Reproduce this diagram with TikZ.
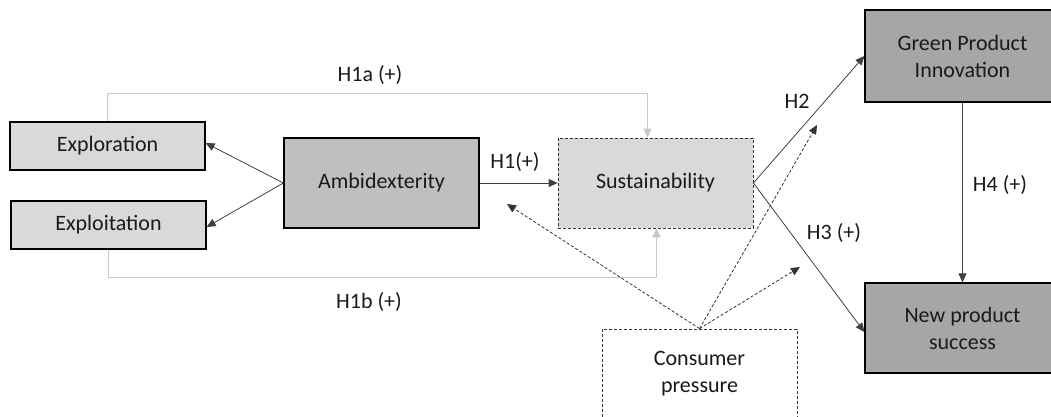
\documentclass[tikz,border=0pt]{standalone}
\usepackage{fontspec}
\setmainfont{Carlito}
\usetikzlibrary{arrows.meta,calc}
\definecolor{lightbox}{HTML}{D9D9D9}
\definecolor{midbox}{HTML}{BFBFBF}
\definecolor{darkbox}{HTML}{A6A6A6}
\definecolor{graylink}{HTML}{C8C8C8}
\definecolor{txt}{HTML}{1A1A1A}
\definecolor{linkc}{HTML}{404040}
\tikzset{
  box/.style={draw=black, line width=1.2pt, minimum width=195pt, inner sep=0pt, align=center, text=txt,
    font=\fontsize{22}{27}\selectfont},
  dbox/.style={box, draw=black!80, line width=0.8pt, dash pattern=on 3pt off 2pt},
  link/.style={draw=linkc, line width=0.8pt, -{Triangle[length=9pt,width=8pt]}},
  glink/.style={draw=graylink, line width=1.5pt, -{Triangle[length=9pt,width=8pt,fill=graylink]}},
  dlink/.style={draw=black!80, line width=0.8pt, dash pattern=on 3pt off 2pt, -{Triangle[length=9pt,width=8pt]}},
  lab/.style={text=txt, font=\fontsize{22}{27}\selectfont, inner sep=0pt}
}
\begin{document}
\begin{tikzpicture}[x=1pt,y=-1pt]
\clip (0,0) rectangle (1051,417);
\fill[white] (0,0) rectangle (1051,417);
\node[box, fill=lightbox, minimum height=48pt] (expl) at (107.5,146) {Exploration};
\node[box, fill=lightbox, minimum height=48pt] (expt) at (108.5,225) {Exploitation};
\node[box, fill=midbox, minimum height=90pt] (ambi) at (381.5,183) {Ambidexterity};
\node[dbox, fill=lightbox, minimum height=90pt] (sust) at (655.5,183) {Sustainability};
\node[box, fill=darkbox, minimum height=92pt] (gpi) at (962.5,56) {Green Product\\Innovation};
\node[box, fill=darkbox, minimum height=90pt] (nps) at (962.5,328) {New product\\success};
\node[dbox, fill=white, minimum height=90pt] (cp) at (699.5,374) {Consumer\\pressure};

\draw[link] (ambi.west) -- ([yshift=3pt]expl.east);
\draw[link] (ambi.west) -- ([yshift=-2pt]expt.east);
\draw[glink] (expl.north) -- ++(0,-28) -| ([xshift=-8pt]sust.north);
\draw[glink] (expt.south) -- ++(0,28) -| ([xshift=1pt]sust.south);
\draw[link] (ambi.east) -- (sust.west);
\draw[link] (sust.east) -- (gpi.west);
\draw[link] (sust.east) -- ([yshift=-4pt]nps.west);
\draw[link] (gpi.south) -- (nps.north);

\coordinate (d1) at (507,204);
\coordinate (d2) at (817,125);
\coordinate (d3) at (800,267);
\draw[dlink] (cp.north) -- (d1);
\draw[dlink] (cp.north) -- (d2);
\draw[dlink] (cp.north) -- (d3);

\node[lab] (l1a) at (370,75) {H1a (+)};
\node[lab] (l1b) at (369,302) {H1b (+)};
\node[lab] (l1) at (515,162) {H1(+)};
\node[lab] (l2) at (797,101) {H2};
\node[lab] (l3) at (834,233) {H3 (+)};
\node[lab] (l4) at (1000,185) {H4 (+)};
\end{tikzpicture}
\end{document}
